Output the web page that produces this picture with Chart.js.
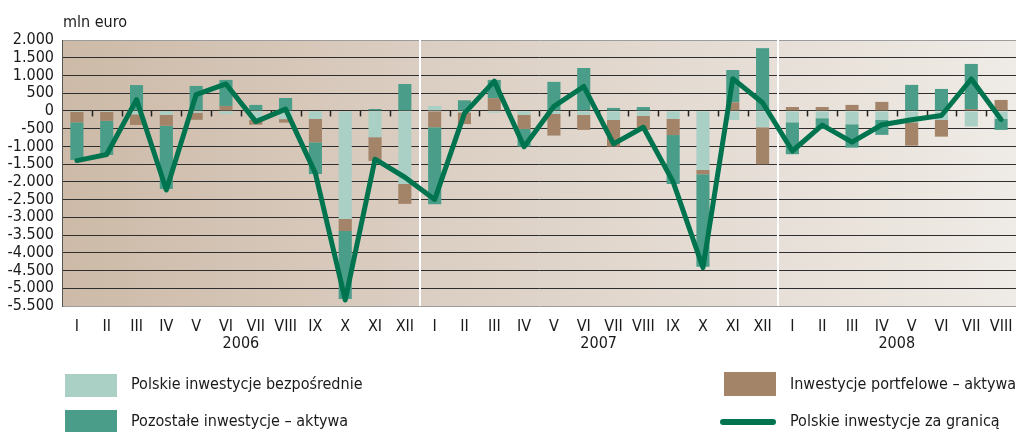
<!DOCTYPE html>
<html><head><meta charset="utf-8">
<script src="https://cdn.jsdelivr.net/npm/chart.js@4.4.0/dist/chart.umd.min.js"></script>
<style>
html,body{margin:0;padding:0;background:#fff;}
#wrap{position:relative;width:1016px;height:432px;overflow:hidden;font-family:'DejaVu Sans Condensed','DejaVu Sans',sans-serif;color:#1a1a1a;}
#c{position:absolute;left:0;top:0;width:1016px;height:432px;}
.unit{position:absolute;left:63px;top:12px;font-size:16px;line-height:20px;}
.lg{position:absolute;font-size:16px;line-height:20px;white-space:nowrap;}
.sw{position:absolute;width:52px;height:23px;}
</style></head><body>
<div id="wrap">
<canvas id="c" width="1016" height="432"></canvas>
<div class="unit">mln euro</div>
<div class="sw" style="left:65px;top:374px;background:#aacfc4"></div>
<div class="lg" style="left:131px;top:374px">Polskie inwestycje bezpośrednie</div>
<div class="sw" style="left:65px;top:410px;background:#4a9e89"></div>
<div class="lg" style="left:131px;top:411px">Pozostałe inwestycje – aktywa</div>
<div class="sw" style="left:724px;top:372px;height:24px;background:#a38469"></div>
<div class="lg" style="left:790px;top:374px">Inwestycje portfelowe – aktywa</div>
<div class="sw" style="left:720px;top:419px;width:56px;height:6px;border-radius:3px;background:#00734f"></div>
<div class="lg" style="left:790px;top:411px">Polskie inwestycje za granicą</div>
</div>
<script>
// ---- data (mln euro) ----
const months = ['I','II','III','IV','V','VI','VII','VIII','IX','X','XI','XII',
                'I','II','III','IV','V','VI','VII','VIII','IX','X','XI','XII',
                'I','II','III','IV','V','VI','VII','VIII'];
const yearLabels = ['2006','2007','2008'];
const yearStarts = [0, 12, 24];
const yearLengths = [12, 12, 8];

const directInv = [-30,-30,-95,-110,-50,-85,-250,-230,-225,-3045,-740,-2060,
                   140,-40,-50,-110,-85,-110,-255,-140,-225,-1665,-255,-460,
                   -320,-205,-375,-255,-320,-255,-440,-225];
const portfolioAssets = [-290,-250,-300,-310,-200,140,-140,-100,-660,-340,-670,-560,
                   -460,-330,360,-400,-610,-425,-750,-395,-455,-120,245,-1045,
                   110,110,170,255,-660,-470,55,310];
const otherAssets = [-1060,-960,730,-1780,705,735,170,365,-895,-1915,55,760,
                   -2170,300,515,-495,820,1210,85,110,-1380,-2605,910,1770,
                   -900,-305,-660,-420,735,620,1270,-310];
const totalAbroad = [-1400,-1230,320,-2230,460,760,-300,50,-1760,-5330,-1360,-1870,
                   -2500,-70,840,-1010,130,690,-930,-460,-2000,-4420,910,230,
                   -1130,-400,-880,-390,-250,-130,900,-240];
const yTicks = {min:-5500, max:2000, step:500};

const FONT = "'DejaVu Sans Condensed','DejaVu Sans',sans-serif";

const bgPlugin = {
  id:'bg',
  beforeDraw(chart){
    const {ctx, chartArea:a} = chart;
    const g = ctx.createLinearGradient(a.left,0,a.right,0);
    g.addColorStop(0,'#cdbaa8');
    g.addColorStop(0.38,'#dbcec2');
    g.addColorStop(1,'#efebe6');
    ctx.save(); ctx.fillStyle = g;
    ctx.fillRect(a.left,a.top,a.right-a.left,a.bottom-a.top);
    ctx.restore();
  },
  beforeDatasetsDraw(chart){
    const {ctx, chartArea:a} = chart;
    const xs = chart.scales.x2, ys = chart.scales.y;
    ctx.save();
    ctx.strokeStyle = '#ffffff'; ctx.lineWidth = 2;
    for (let i=1;i<yearStarts.length;i++){
      const x = Math.round(xs.getPixelForValue(yearStarts[i]-0.5));
      ctx.beginPath(); ctx.moveTo(x,a.top); ctx.lineTo(x,a.bottom); ctx.stroke();
    }
    const y0 = ys.getPixelForValue(0);
    ctx.strokeStyle = '#222'; ctx.lineWidth = 1.5;
    for (let k=1;k<months.length;k++){
      if (yearStarts.includes(k)) continue;
      const x = Math.round(xs.getPixelForValue(k-0.5))+0.5;
      ctx.beginPath(); ctx.moveTo(x,y0); ctx.lineTo(x,y0+5.5); ctx.stroke();
    }
    ctx.restore();
  }
};

new Chart(document.getElementById('c'), {
  data:{
    labels: months,
    datasets:[
      {type:'bar', label:'Polskie inwestycje bezpośrednie', data:directInv, backgroundColor:'#aacfc4', stack:'a', order:1, barPercentage:0.44, categoryPercentage:1},
      {type:'bar', label:'Inwestycje portfelowe – aktywa', data:portfolioAssets, backgroundColor:'#a38469', stack:'a', order:1, barPercentage:0.44, categoryPercentage:1},
      {type:'bar', label:'Pozostałe inwestycje – aktywa', data:otherAssets, backgroundColor:'#4a9e89', stack:'a', order:1, barPercentage:0.44, categoryPercentage:1},
      {type:'line', label:'Polskie inwestycje za granicą', data:totalAbroad, borderColor:'#00734f', borderWidth:5, pointRadius:0, tension:0, borderJoinStyle:'round', borderCapStyle:'round', stack:'b', order:0, fill:false}
    ]
  },
  options:{
    responsive:false, animation:false, devicePixelRatio:1,
    layout:{padding:{top:40,bottom:76,left:0,right:0}},
    plugins:{legend:{display:false}, tooltip:{enabled:false}, title:{display:false}},
    scales:{
      x:{type:'category', stacked:true, offset:true, weight:0,
         grid:{display:false}, border:{display:false},
         ticks:{font:{family:FONT,size:16}, color:'#1a1a1a', padding:3, maxRotation:0, autoSkip:false},
         afterFit(s){ s.height = 25; }},
      x2:{type:'linear', position:'bottom', min:-0.5, max:months.length-0.5, weight:1,
         grid:{display:false, drawTicks:false}, border:{display:false},
         afterBuildTicks(s){ s.ticks = yearStarts.map((st,i)=>({value: st + yearLengths[i]/2 - 0.5})); },
         ticks:{font:{family:FONT,size:16}, color:'#1a1a1a', padding:3, maxRotation:0, autoSkip:false,
                callback(v){ const i = yearStarts.findIndex((st,j)=> Math.abs(st + yearLengths[j]/2 - 0.5 - v) < 0.01); return i>=0 ? yearLabels[i] : ''; }},
         afterFit(s){ s.height = 25; }},
      y:{stacked:true, min:yTicks.min, max:yTicks.max,
         border:{display:true, color:'#555', width:1},
         grid:{drawTicks:false, lineWidth:1,
               color(c){ const v=c.tick && c.tick.value; return (v===yTicks.max||v===yTicks.min) ? '#9c9c9c' : '#2e2e2e'; }},
         ticks:{stepSize:yTicks.step, autoSkip:false, font:{family:FONT,size:16}, color:'#1a1a1a', padding:8,
                callback(v){ const s = Math.abs(v).toString().replace(/\B(?=(\d{3})+(?!\d))/g,'.'); return (v<0?'-':'')+s; }},
         afterFit(s){ s.width = 62; }}
    }
  },
  plugins:[bgPlugin]
});
</script>
</body></html>
